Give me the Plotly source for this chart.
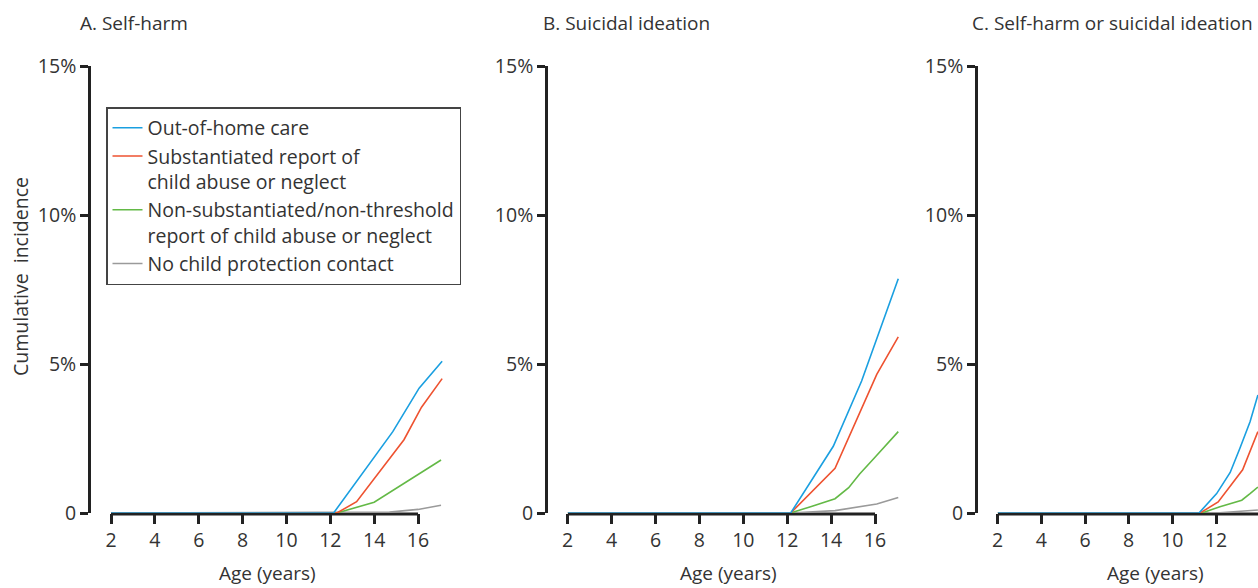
import plotly.graph_objects as go

W, H = 1258, 588

# ---------------- data ----------------
panel_titles = ["A. Self-harm", "B. Suicidal ideation", "C. Self-harm or suicidal ideation"]
series_names = [
    "Out-of-home care",
    "Substantiated report of<br>child abuse or neglect",
    "Non-substantiated/non-threshold<br>report of child abuse or neglect",
    "No child protection contact",
]
series_colors = ["#1a9fe0", "#ee5230", "#63b946", "#9a9a9a"]

x_tick_vals = [2, 4, 6, 8, 10, 12, 14, 16]
y_tick_vals = [0, 5, 10, 15]
y_tick_text = ["0", "5%", "10%", "15%"]

# Panel A: self-harm (age in years, cumulative incidence %)
a_ooh_age = [2, 12.15, 14.85, 16.05, 17.1]
a_ooh_pct = [0, 0, 2.73, 4.19, 5.09]
a_sub_age = [2, 12.3, 13.2, 15.36, 16.16, 17.1]
a_sub_pct = [0, 0, 0.38, 2.46, 3.55, 4.51]
a_non_age = [2, 12.3, 14.0, 17.05]
a_non_pct = [0, 0, 0.36, 1.78]
a_none_age = [2, 14.7, 16.0, 17.05]
a_none_pct = [0, 0.03, 0.12, 0.26]

# Panel B: suicidal ideation
b_ooh_age = [2, 12.16, 14.1, 15.39, 17.06]
b_ooh_pct = [0, 0, 2.24, 4.43, 7.86]
b_sub_age = [2, 12.16, 14.18, 16.08, 17.06]
b_sub_pct = [0, 0, 1.50, 4.65, 5.91]
b_non_age = [2, 12.15, 13.1, 14.18, 14.8, 15.3, 16.0, 17.06]
b_non_pct = [0, 0, 0.22, 0.48, 0.85, 1.31, 1.87, 2.73]
b_none_age = [2, 12.16, 14.18, 16.08, 17.06]
b_none_pct = [0, 0, 0.08, 0.30, 0.52]

# Panel C: self-harm or suicidal ideation (visible part only)
c_ooh_age = [2, 11.22, 12.03, 12.65, 13.1, 13.56, 13.92]
c_ooh_pct = [0, 0, 0.65, 1.36, 2.18, 3.06, 3.96]
c_sub_age = [2, 11.27, 12.1, 13.22, 13.92]
c_sub_pct = [0, 0, 0.37, 1.45, 2.73]
c_non_age = [2, 11.35, 12.18, 13.18, 13.56, 13.92]
c_non_pct = [0, 0, 0.21, 0.43, 0.65, 0.87]
c_none_age = [2, 12.0, 13.92]
c_none_pct = [0, 0, 0.10]

panels_data = [
    [(a_ooh_age, a_ooh_pct), (a_sub_age, a_sub_pct), (a_non_age, a_non_pct), (a_none_age, a_none_pct)],
    [(b_ooh_age, b_ooh_pct), (b_sub_age, b_sub_pct), (b_non_age, b_non_pct), (b_none_age, b_none_pct)],
    [(c_ooh_age, c_ooh_pct), (c_sub_age, c_sub_pct), (c_non_age, c_non_pct), (c_none_age, c_none_pct)],
]

# ---------------- geometry (pixels) ----------------
FONT = "Open Sans"
FS = 19.5
TXT = "#333333"
AX = "#222222"
zero_px, top_px = 513, 66
panel_geo = [
    dict(yaxis_px=89, age2_px=111, ppy=21.93, right_px=446, title_px=78, xlab_px=267),
    dict(yaxis_px=546, age2_px=567.7, ppy=21.95, right_px=902, title_px=541, xlab_px=728),
    dict(yaxis_px=976, age2_px=997.7, ppy=21.83, right_px=1258, title_px=970, xlab_px=1155),
]

fig = go.Figure()
layout_axes = {}
shapes = []
annotations = []

for i, (geo, pdata) in enumerate(zip(panel_geo, panels_data)):
    n = "" if i == 0 else str(i + 1)
    xa, ya = "x" + n, "y" + n
    xmax = 2 + (geo["right_px"] - geo["age2_px"]) / geo["ppy"]
    # draw order: gray, green, red, blue (blue on top)
    for k in [3, 2, 1, 0]:
        ages, pct = pdata[k]
        fig.add_trace(go.Scatter(
            x=ages, y=pct, mode="lines", name=series_names[k],
            line=dict(color=series_colors[k], width=1.6),
            xaxis=xa, yaxis=ya, showlegend=(i == 0), hoverinfo="skip",
        ))
    layout_axes["xaxis" + n] = dict(
        domain=[geo["age2_px"] / W, min(geo["right_px"] / W, 1.0)],
        range=[2, xmax], anchor=ya, showline=False, showgrid=False, zeroline=False,
        automargin=False,
        tickmode="array", tickvals=x_tick_vals, ticks="outside", ticklen=10,
        tickwidth=3, tickcolor=AX, tickfont=dict(family=FONT, size=FS, color=TXT),
    )
    layout_axes["yaxis" + n] = dict(
        domain=[(H - zero_px) / H, (H - top_px) / H], range=[0, 15],
        anchor="free", position=geo["yaxis_px"] / W, automargin=False,
        showline=True, linewidth=2.7, linecolor=AX, showgrid=False, zeroline=False,
        tickmode="array", tickvals=y_tick_vals, ticktext=y_tick_text,
        ticks="outside", ticklen=8, tickwidth=2.5, tickcolor=AX,
        tickfont=dict(family=FONT, size=FS, color=TXT),
    )
    # x axis line spanning age 2 to 16
    shapes.append(dict(type="line", xref=xa, yref="paper", x0=2, x1=16,
                       y0=(H - zero_px - 1) / H, y1=(H - zero_px - 1) / H,
                       line=dict(color=AX, width=3), layer="below"))
    annotations.append(dict(text=panel_titles[i], xref="paper", yref="paper",
                            x=geo["title_px"] / W, y=(H - 23) / H, xanchor="left",
                            yanchor="middle", showarrow=False,
                            font=dict(family=FONT, size=19, color=TXT)))
    annotations.append(dict(text="Age (years)", xref="paper", yref="paper",
                            x=geo["xlab_px"] / W, y=(H - 573) / H, xanchor="center",
                            yanchor="middle", showarrow=False,
                            font=dict(family=FONT, size=19, color=TXT)))

annotations.append(dict(text="Cumulative  incidence", xref="paper", yref="paper",
                        x=20 / W, y=(H - 277) / H, xanchor="center", yanchor="middle",
                        textangle=-90, showarrow=False,
                        font=dict(family=FONT, size=FS, color=TXT)))

fig.update_layout(
    width=W, height=H, margin=dict(l=0, r=0, t=0, b=0, pad=0, autoexpand=False),
    paper_bgcolor="white", plot_bgcolor="white",
    font=dict(family=FONT, size=FS, color=TXT),
    showlegend=True,
    legend=dict(x=106 / W, y=(H - 107) / H, xanchor="left", yanchor="top",
                bordercolor="#444444", borderwidth=1.5, bgcolor="white",
                traceorder="reversed", valign="top",
                font=dict(family=FONT, size=FS, color=TXT)),
    shapes=shapes, annotations=annotations,
    **layout_axes,
)

fig.write_html("out.html", config={"displayModeBar": False},
               post_script="document.body.style.margin='0';")
